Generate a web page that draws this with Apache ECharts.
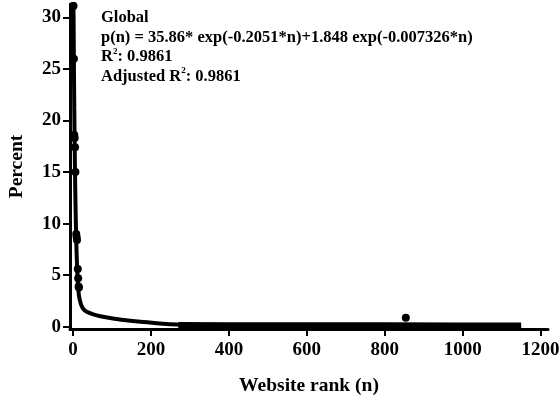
<!DOCTYPE html>
<html>
<head>
<meta charset="utf-8">
<script src="https://cdn.jsdelivr.net/npm/echarts@6/dist/echarts.min.js"></script>
<style>
  html, body { margin: 0; padding: 0; background: #fff; }
  #chart { width: 559px; height: 396px; }
</style>
</head>
<body>
<div id="chart"></div>
<script>
// observed points (rank, percent)
var obsRank = [1, 2, 3, 4, 5, 6, 8, 9, 10, 12, 13, 14, 15, 854];
var obsPct = [31.1, 26.0, 18.6, 18.3, 17.4, 15.0, 9.0, 8.7, 8.4, 5.6, 4.7, 3.9, 3.8, 0.87];

// fitted curve, sampled from the drawn line
var fitRank = [0, 1, 2, 3, 4, 5, 6, 8, 10, 12, 15, 20, 26, 35, 52, 70, 95, 130, 180, 230, 266, 320, 400, 500, 600, 800, 1000, 1150];
var fitPct = [37.7, 31.0, 25.6, 21.2, 17.6, 14.6, 12.1, 8.4, 6.0, 4.4, 3.0, 2.2, 1.75, 1.45, 1.2, 1.02, 0.85, 0.65, 0.45, 0.3, 0.22, 0.14, 0.08, 0.05, 0.03, 0.02, 0.01, 0.01];

// band of near-zero observations along the floor
var tailRank = [270, 400, 600, 800, 1000, 1150];
var tailPct = [0.06, 0.05, 0.04, 0.04, 0.03, 0.03];

var xTicks = [0, 200, 400, 600, 800, 1000, 1200];
var yTicks = [0, 5, 10, 15, 20, 25, 30];

function pairs(a, b) {
  return a.map(function (v, i) { return [v, b[i]]; });
}

var font = '"Liberation Serif", "Times New Roman", serif';
var chart = echarts.init(document.getElementById('chart'));

chart.setOption({
  backgroundColor: '#fff',
  animation: false,
  grid: { left: 70, right: 11, top: 4, bottom: 67, containLabel: false, outerBoundsMode: 'none' },
  xAxis: {
    type: 'value',
    min: -8,
    max: 1219,
    name: 'Website rank (n)',
    nameLocation: 'middle',
    nameGap: 47,
    nameTextStyle: { color: '#000', fontFamily: font, fontSize: 19.5, fontWeight: 'bold' },
    splitLine: { show: false },
    axisLine: { onZero: false, lineStyle: { color: '#000', width: 3 } },
    axisTick: { customValues: xTicks, length: 7, lineStyle: { color: '#000', width: 2 } },
    axisLabel: {
      customValues: xTicks, color: '#000', fontFamily: font, fontSize: 19, fontWeight: 'bold', margin: 12,
      formatter: function (v) { return String(v); }
    }
  },
  yAxis: {
    type: 'value',
    min: -0.22,
    max: 31.3,
    name: 'Percent',
    nameLocation: 'middle',
    nameGap: 43,
    nameTextStyle: { color: '#000', fontFamily: font, fontSize: 19.5, fontWeight: 'bold' },
    splitLine: { show: false },
    axisLine: { onZero: false, lineStyle: { color: '#000', width: 3 } },
    axisTick: { customValues: yTicks, length: 7, lineStyle: { color: '#000', width: 2 } },
    axisLabel: { customValues: yTicks, color: '#000', fontFamily: font, fontSize: 19, fontWeight: 'bold', margin: 9 }
  },
  graphic: [{
    type: 'text',
    left: 101,
    top: 8,
    style: {
      text: 'Global\np(n) = 35.86* exp(-0.2051*n)+1.848 exp(-0.007326*n)\nR{sup|2}: 0.9861\nAdjusted R{sup|2}: 0.9861',
      fill: '#000',
      font: 'bold 16.5px ' + font,
      lineHeight: 19.5,
      rich: {
        sup: { fontSize: 9, fontWeight: 'bold', fontFamily: font, verticalAlign: 'top', lineHeight: 14, padding: [0, 0, 7, 0] }
      }
    }
  }],
  series: [{
    name: 'tail',
    type: 'line',
    data: pairs(tailRank, tailPct),
    showSymbol: false,
    lineStyle: { color: '#000', width: 8, cap: 'butt' },
    z: 2
  }, {
    name: 'fit',
    type: 'line',
    data: pairs(fitRank, fitPct),
    smooth: 0.3,
    showSymbol: false,
    lineStyle: { color: '#000', width: 4 },
    z: 3
  }, {
    name: 'observed',
    type: 'scatter',
    data: pairs(obsRank, obsPct),
    symbolSize: 8,
    itemStyle: { color: '#000', opacity: 1 },
    z: 4
  }]
});
</script>
</body>
</html>
